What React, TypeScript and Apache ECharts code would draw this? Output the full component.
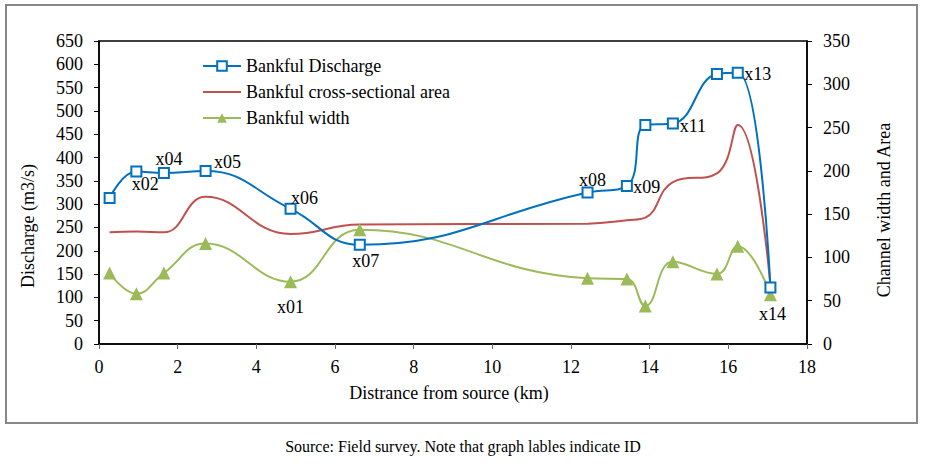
import React, { useEffect, useRef } from "react";
import * as echarts from "echarts";

// ---- data ----
const distanceKm = [0.27, 0.95, 1.65, 2.71, 4.87, 6.63, 12.42, 13.42, 13.89, 14.59, 15.71, 16.24, 17.07];
const discharge = [313, 370, 367, 371, 290, 213, 325, 339, 470, 473, 579, 582, 121];
const crossArea = [129, 130, 129, 170, 127, 138, 139, 143, 146, 187, 197, 253, 67];
const bankWidth = [82, 58, 82, 116, 72, 132, 76, 75, 44, 95, 81, 113, 57];

// ID labels: text, series, point index
const idLabels = [
  { id: "x01", series: "width", index: 4 },
  { id: "x02", series: "discharge", index: 1 },
  { id: "x04", series: "discharge", index: 2 },
  { id: "x05", series: "discharge", index: 3 },
  { id: "x06", series: "discharge", index: 4 },
  { id: "x07", series: "discharge", index: 5 },
  { id: "x08", series: "discharge", index: 6 },
  { id: "x09", series: "discharge", index: 7 },
  { id: "x11", series: "discharge", index: 9 },
  { id: "x13", series: "discharge", index: 11 },
  { id: "x14", series: "discharge", index: 12 },
];

const leftTicks = { min: 0, max: 650, step: 50 };
const rightTicks = { min: 0, max: 350, step: 50 };
const xTicks = { min: 0, max: 18, step: 2 };

const seriesNames = ["Bankful Discharge", "Bankful cross-sectional area", "Bankful width"];
const axisTitles = {
  x: "Distrance from source (km)",
  left: "Discharge (m3/s)",
  right: "Channel width and Area",
};
const caption = "Source: Field survey. Note that graph lables indicate ID";

// ---- styling (kept apart from the data) ----
const labelOffsets: Record<string, [number, number]> = {
  x01: [0, 25],
  x02: [9, 12],
  x04: [5, -14],
  x05: [22, -9],
  x06: [14, -11],
  x07: [6, 16],
  x08: [5, -13],
  x09: [20, 1],
  x11: [20, 2],
  x13: [20, 1],
  x14: [2, 26],
};

const FONT = "'Liberation Serif', 'Times New Roman', serif";
const BLUE = "#0070C0";
const RED = "#C0504D";
const GREEN = "#9BBB59";

function buildData(values: number[], key: string) {
  return distanceKm.map((x, i) => {
    const lab = idLabels.find((l) => l.series === key && l.index === i);
    const item: any = { value: [x, values[i]] };
    if (lab) {
      item.label = {
        show: true,
        formatter: lab.id,
        position: "inside",
        offset: labelOffsets[lab.id],
        color: "#000",
        fontFamily: FONT,
        fontSize: 18,
      };
    }
    return item;
  });
}

export default function App() {
  const ref = useRef<HTMLDivElement>(null);
  useEffect(() => {
    if (!ref.current) return;
    const chart = echarts.init(ref.current, undefined, { renderer: "svg" });
    const axisLabel = { color: "#000", fontFamily: FONT, fontSize: 18 };
    const option: any = {
      animation: false,
      backgroundColor: "#fff",
      grid: {
        left: 99,
        right: 119,
        top: 41,
        bottom: 120,
        show: true,
        borderColor: "#000",
        borderWidth: 1.5,
      },
      legend: {
        orient: "vertical",
        left: 202,
        top: 57,
        padding: 0,
        itemWidth: 38,
        itemHeight: 12,
        itemGap: 8,
        textStyle: { color: "#000", fontFamily: FONT, fontSize: 18, lineHeight: 18 },
        data: [
          { name: seriesNames[0] },
          {
            name: seriesNames[1],
            itemStyle: { color: "rgba(0,0,0,0)", borderWidth: 0, borderColor: "rgba(0,0,0,0)" },
            lineStyle: { color: RED, width: 2 },
          },
          { name: seriesNames[2] },
        ],
      },
      xAxis: {
        type: "value",
        min: xTicks.min,
        max: xTicks.max,
        interval: xTicks.step,
        axisLine: { show: true, lineStyle: { color: "#000", width: 1.5 } },
        axisTick: { show: true, length: 5, lineStyle: { color: "#666" } },
        axisLabel: { ...axisLabel, margin: 14 },
        splitLine: { show: false },
      },
      yAxis: [
        {
          type: "value",
          position: "left",
          min: leftTicks.min,
          max: leftTicks.max,
          interval: leftTicks.step,
          axisLine: { show: true, lineStyle: { color: "#000", width: 1.5 } },
          axisTick: { show: true, length: 5, lineStyle: { color: "#000" } },
          axisLabel: { ...axisLabel, margin: 16 },
          splitLine: { show: false },
        },
        {
          type: "value",
          position: "right",
          min: rightTicks.min,
          max: rightTicks.max,
          interval: rightTicks.step,
          axisLine: { show: true, lineStyle: { color: "#000", width: 1.5 } },
          axisTick: { show: true, length: 5, lineStyle: { color: "#000" } },
          axisLabel: { ...axisLabel, margin: 16 },
          splitLine: { show: false },
        },
      ],
      series: [
        {
          name: seriesNames[0],
          type: "line",
          yAxisIndex: 0,
          smooth: 0.45,
          symbol: "emptyRect",
          symbolSize: 10,
          z: 4,
          lineStyle: { color: BLUE, width: 2 },
          itemStyle: { color: BLUE, borderWidth: 2 },
          data: buildData(discharge, "discharge"),
        },
        {
          name: seriesNames[1],
          type: "line",
          yAxisIndex: 1,
          smooth: 0.45,
          symbol: "none",
          z: 2,
          lineStyle: { color: RED, width: 2 },
          itemStyle: { color: RED },
          data: buildData(crossArea, "area"),
        },
        {
          name: seriesNames[2],
          type: "line",
          yAxisIndex: 1,
          smooth: 0.45,
          symbol: "triangle",
          symbolSize: 13,
          z: 3,
          lineStyle: { color: GREEN, width: 2 },
          itemStyle: { color: GREEN },
          data: buildData(bankWidth, "width"),
        },
      ],
      graphic: [
        {
          type: "rect",
          shape: { x: 6, y: 5, width: 911, height: 418 },
          style: { fill: "none", stroke: "#888", lineWidth: 2 },
          silent: true,
        },
        {
          type: "text",
          x: 28,
          y: 226,
          rotation: Math.PI / 2,
          style: {
            text: axisTitles.left,
            fill: "#000",
            font: `18px ${FONT}`,
            align: "center",
            verticalAlign: "middle",
          },
        },
        {
          type: "text",
          x: 884,
          y: 210,
          rotation: Math.PI / 2,
          style: {
            text: axisTitles.right,
            fill: "#000",
            font: `18px ${FONT}`,
            align: "center",
            verticalAlign: "middle",
          },
        },
        {
          type: "text",
          x: 449,
          y: 393,
          style: {
            text: axisTitles.x,
            fill: "#000",
            font: `18px ${FONT}`,
            align: "center",
            verticalAlign: "middle",
          },
        },
        {
          type: "text",
          x: 463,
          y: 446,
          style: {
            text: caption,
            fill: "#000",
            font: `16px ${FONT}`,
            align: "center",
            verticalAlign: "middle",
          },
        },
      ],
    };
    chart.setOption(option);
    return () => chart.dispose();
  }, []);
  return (
    <div
      ref={ref}
      style={{ position: "fixed", left: 0, top: 0, width: 926, height: 464, background: "#fff" }}
    />
  );
}
